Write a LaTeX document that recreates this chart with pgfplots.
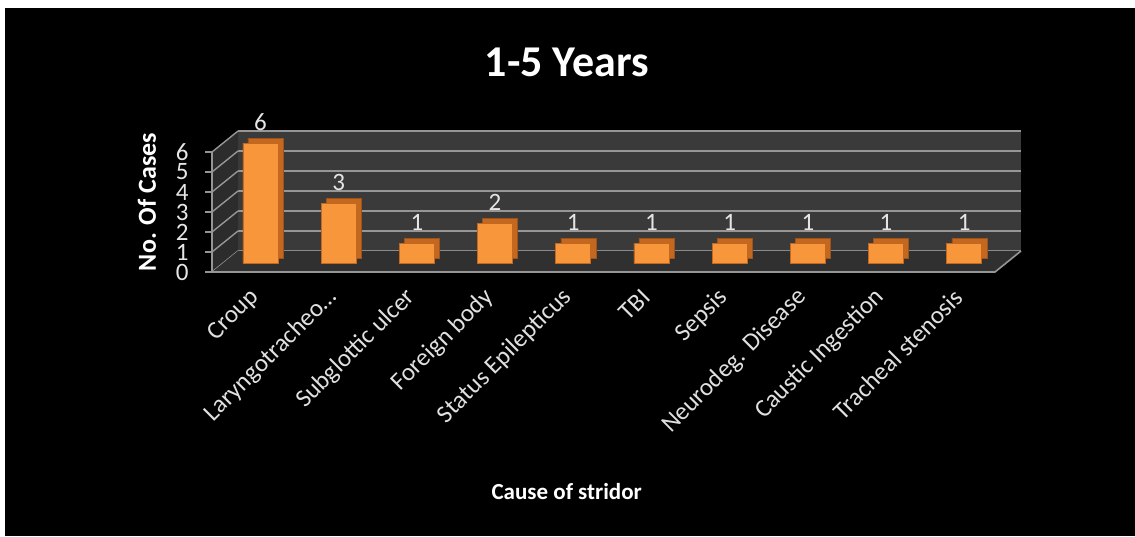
\documentclass[border=0pt]{standalone}
\usepackage{pgfplots}
\pgfplotsset{compat=1.18}
\usepackage{fontspec}
\setmainfont{Carlito}
\definecolor{barfront}{RGB}{248,150,60}
\definecolor{barside}{RGB}{196,104,32}
\definecolor{wallback}{RGB}{58,58,58}
\definecolor{wallside}{RGB}{44,44,44}
\definecolor{floorc}{RGB}{48,48,48}
\definecolor{gridc}{RGB}{150,150,150}
\begin{document}
\begin{tikzpicture}
% page and chart area
\fill[white] (0pt,0pt) rectangle (1135pt,536pt);
\fill[black] (5pt,0pt) rectangle (1135pt,528pt);
% back wall
\fill[wallback] (238pt,285pt) rectangle (1021pt,405pt);
\foreach \k in {0,...,6} {
  \draw[gridc, line width=1.6pt] (238pt,285pt+\k*20pt) -- (1021pt,285pt+\k*20pt);
}
% side wall
\fill[wallside] (212pt,264pt) -- (238pt,285pt) -- (238pt,405pt) -- (212pt,384pt) -- cycle;
\foreach \k in {0,...,6} {
  \draw[gridc, line width=1.4pt] (212pt,264pt+\k*20pt) -- (238pt,285pt+\k*20pt);
}
% floor
\fill[floorc] (212pt,264pt) -- (995pt,264pt) -- (1021pt,285pt) -- (238pt,285pt) -- cycle;
\draw[gridc, line width=1.6pt] (212pt,264pt) -- (995pt,264pt) -- (1021pt,285pt);
\draw[gridc, line width=1.4pt] (212pt,264pt) -- (212pt,384pt);
\begin{axis}[
  at={(212pt,264pt)}, anchor=south west,
  scale only axis, width=783pt, height=120pt,
  xmin=-0.62, xmax=9.393, ymin=0, ymax=6,
  axis line style={draw=none},
  clip=false,
  ytick={0,1,...,6},
  ytick pos=left,
  tick align=outside,
  major tick length=7pt,
  y tick style={gridc, line width=1.4pt},
  x tick style={draw=none},
  xtick={0,...,9},
  xticklabels={Croup, Laryngotracheo\ldots, Subglottic ulcer, Foreign body, Status Epilepticus, TBI, Sepsis, Neurodeg. Disease, Caustic Ingestion, Tracheal stenosis},
  xticklabel style={font=\fontsize{25}{27}\selectfont, text=white!88!black, xshift=-3pt, yshift=-12pt, rotate=45, anchor=east},
  yticklabel style={font=\fontsize{25}{26}\selectfont, text=white!90!black, xshift=-13pt},
  /pgf/number format/assume math mode=true,
  title={1-5 Years},
  title style={font=\bfseries\fontsize{44}{48}\selectfont, text=white, at={(axis description cs:0.453,1.70)}, anchor=center},
  xlabel={Cause of stridor},
  every axis x label/.style={at={(axis description cs:0.453,-1.833)}, anchor=center, font=\bfseries\fontsize{23}{25}\selectfont, text=white},
  ylabel={No. Of Cases},
  every axis y label/.style={at={(axis description cs:-0.083,0.583)}, rotate=90, anchor=center, font=\bfseries\fontsize{26}{28}\selectfont, text=white},
]
% depth of the bars
\addplot[ybar, bar width=35pt, bar shift=0pt, fill=barside, draw=barside!80!black, xshift=5pt, yshift=14pt]
  coordinates {(0,6) (1,3) (2,1) (3,2) (4,1) (5,1) (6,1) (7,1) (8,1) (9,1)};
% front of the bars
\addplot[ybar, bar width=35pt, bar shift=0pt, fill=barfront, draw=barside, line width=0.6pt, yshift=9pt,
  nodes near coords, every node near coord/.append style={text=white!90!black, font=\fontsize{25}{26}\selectfont, yshift=9pt}]
  coordinates {(0,6) (1,3) (2,1) (3,2) (4,1) (5,1) (6,1) (7,1) (8,1) (9,1)};
\end{axis}
\end{tikzpicture}
\end{document}
